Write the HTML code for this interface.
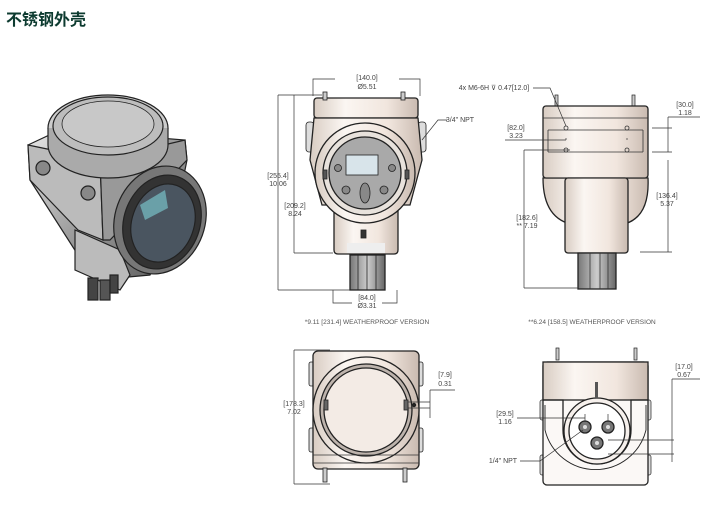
<!DOCTYPE html>
<html><head><meta charset="utf-8"><style>
html,body{margin:0;padding:0;background:#fff;}
svg{display:block}
.t{font-family:"Liberation Sans",sans-serif;font-size:7px;fill:#444;text-anchor:middle}
.s{font-family:"Liberation Sans",sans-serif;font-size:6.5px;fill:#555;text-anchor:middle}
.l{stroke:#333;stroke-width:0.7;fill:none}
.o{stroke:#222;stroke-width:1.3}
</style></head><body>
<svg width="712" height="507" viewBox="0 0 712 507" xmlns="http://www.w3.org/2000/svg">
<defs>
<linearGradient id="m" x1="0" x2="1"><stop offset="0" stop-color="#d8ccc2"/><stop offset=".3" stop-color="#fbf6f2"/><stop offset=".7" stop-color="#f1e6de"/><stop offset="1" stop-color="#c9bab0"/></linearGradient>
<linearGradient id="g" x1="0" x2="1" y1="0" y2="1"><stop offset="0" stop-color="#e8e8e8"/><stop offset=".5" stop-color="#9a9a9a"/><stop offset="1" stop-color="#555"/></linearGradient>
<linearGradient id="c" x1="0" x2="1"><stop offset="0" stop-color="#777"/><stop offset=".5" stop-color="#ccc"/><stop offset="1" stop-color="#666"/></linearGradient>
</defs>
<text x="6" y="25" style="font-family:'Liberation Sans','Noto Sans CJK SC',sans-serif;font-size:16px;font-weight:bold;fill:#0d3b30">不锈钢外壳</text>

<!-- 3D view -->
<g stroke="#222" stroke-width="1.2">
<path d="M28 145 L60 130 L185 140 L187 160 L175 220 L150 275 L95 280 L78 255 L30 180 Z" fill="url(#g)"/>
<path d="M28 145 L100 160 L103 240 L78 230 L30 180Z" fill="#bbb"/>
<path d="M100 160 L185 140 L187 160 L110 240 L103 240Z" fill="#999"/>
<ellipse cx="108" cy="128" rx="60" ry="33" fill="#ccc"/>
<path d="M48 128 L48 145 A60 33 0 0 0 168 145 L168 128" fill="#aaa"/>
<ellipse cx="108" cy="126" rx="55" ry="29" fill="#bdbdbd"/>
<ellipse cx="108" cy="124" rx="46" ry="23" fill="#c8c8c8" stroke-width="0.8"/>
<circle cx="43" cy="168" r="7" fill="#888"/><circle cx="88" cy="193" r="7" fill="#888"/>
<path d="M75 230 L75 270 L120 290 L130 275 L120 250Z" fill="#bbb"/>
<rect x="88" y="278" width="10" height="22" fill="#444"/><rect x="100" y="280" width="10" height="20" fill="#555"/><rect x="110" y="275" width="8" height="18" fill="#444"/>
<ellipse cx="160" cy="220" rx="45" ry="55" transform="rotate(20 160 220)" fill="#777"/>
<ellipse cx="162" cy="222" rx="38" ry="48" transform="rotate(20 162 222)" fill="#333"/>
<ellipse cx="163" cy="223" rx="31" ry="40" transform="rotate(20 163 223)" fill="#4a5560"/>
<path d="M140 205 L165 190 L168 208 L145 220Z" fill="#6aa0a8" stroke="none"/>
</g>

<!-- front view -->
<g class="o">
<rect x="306" y="122" width="8" height="30" rx="3" fill="#ddd" stroke-width="0.8"/>
<rect x="418" y="122" width="8" height="30" rx="3" fill="#ddd" stroke-width="0.8"/>
<rect x="314" y="98" width="104" height="20" rx="3" fill="url(#m)"/>
<rect x="323" y="92" width="4" height="8" fill="#ccc" stroke-width="0.8"/><rect x="401" y="92" width="4" height="8" fill="#ccc" stroke-width="0.8"/>
<path d="M314 118 L310 160 L322 205 L410 205 L422 160 L418 118Z" fill="url(#m)"/>
<path d="M334 205 L334 250 Q334 254 338 254 L394 254 Q398 254 398 250 L398 205Z" fill="url(#m)"/>
<circle cx="365" cy="173" r="50" fill="url(#m)"/>
<circle cx="365" cy="173" r="42" fill="#e8e2dc"/>
<circle cx="365" cy="173" r="36" fill="#a9a9a9"/>
<rect x="346" y="155" width="32" height="20" fill="#d8e4ea" stroke-width="0.8"/>
<rect x="347" y="243" width="38" height="10" fill="#eee" stroke="none"/>
<rect x="350" y="255" width="35" height="35" fill="url(#c)"/>
</g>
<g stroke="#222" stroke-width="0.8" fill="#888">
<circle cx="338" cy="168" r="3.5"/><circle cx="392" cy="168" r="3.5"/>
<circle cx="346" cy="190" r="4"/><circle cx="384" cy="190" r="4"/>
<ellipse cx="365" cy="193" rx="5" ry="10"/>
<rect x="323" y="170" width="4" height="9" fill="#555"/><rect x="405" y="170" width="4" height="9" fill="#555"/>
<rect x="361" y="230" width="5" height="8" fill="#333"/>
</g>
<g stroke="#222" stroke-width="0.8"><line x1="358" y1="255" x2="358" y2="290"/><line x1="367" y1="255" x2="367" y2="290"/><line x1="376" y1="255" x2="376" y2="290"/></g>
<g class="l">
<path d="M313 96 V79 H335 M399 79 H420 V96"/>
<path d="M278 95 H322 M278 290 H350 M278 95 V290"/>
<path d="M294 253 H333 M294 95 V253"/>
<path d="M333 290 V303 H352 M382 303 H397 V290"/>
<path d="M422 140 L438 120 H447"/>
</g>
<text class="t" x="367" y="80">[140.0]</text><text class="t" x="367" y="89">Ø5.51</text>
<text class="t" x="278" y="178">[255.4]</text><text class="t" x="278" y="186">10.06</text>
<text class="t" x="295" y="208">[209.2]</text><text class="t" x="295" y="216">8.24</text>
<text class="t" x="367" y="300">[84.0]</text><text class="t" x="367" y="308">Ø3.31</text>
<text class="t" x="460" y="122">3/4" NPT</text>
<text class="s" x="367" y="324">*9.11 [231.4] WEATHERPROOF VERSION</text>

<!-- side view -->
<g class="o">
<rect x="555" y="95" width="3" height="12" fill="#ccc" stroke-width="0.7"/><rect x="632" y="95" width="3" height="12" fill="#ccc" stroke-width="0.7"/>
<path d="M563 210 A40 40 0 0 0 630 210Z" fill="#eee"/>
<path d="M543 178 Q543 220 575 225 L620 225 Q650 220 648 178Z" fill="url(#m)"/>
<rect x="543" y="106" width="105" height="72" rx="3" fill="url(#m)"/>
<rect x="565" y="178" width="63" height="75" rx="3" fill="url(#m)"/>
<rect x="578" y="253" width="38" height="36" fill="url(#c)"/>
</g>
<g stroke="#333" stroke-width="0.8" fill="none">
<line x1="543" y1="118" x2="648" y2="118"/><line x1="548" y1="130" x2="643" y2="130"/><line x1="548" y1="152" x2="643" y2="152"/><line x1="543" y1="178" x2="648" y2="178"/>
<line x1="548" y1="130" x2="548" y2="152"/><line x1="643" y1="130" x2="643" y2="152"/>
<circle cx="566" cy="128" r="2"/><circle cx="627" cy="128" r="2"/><circle cx="566" cy="150" r="2"/><circle cx="627" cy="150" r="2"/>
<line x1="590" y1="253" x2="590" y2="289"/><line x1="600" y1="253" x2="600" y2="289"/><line x1="608" y1="253" x2="608" y2="289"/>
</g>
<g class="l">
<path d="M533 88 L550 88 L566 126"/>
<path d="M505 140 H566 M566 140 V138 M627 140 V138"/>
<path d="M524 150 H570 M524 288 H578 M524 150 V288"/>
<path d="M668 117 H700 M652 128 H672 M652 152 H672 M668 117 V152"/>
<path d="M640 252 H672 M668 160 V252"/>
</g>
<text class="t" x="494" y="90">4x M6-6H ⊽ 0.47[12.0]</text>
<text class="t" x="516" y="130">[82.0]</text><text class="t" x="516" y="138">3.23</text>
<text class="t" x="685" y="107">[30.0]</text><text class="t" x="685" y="115">1.18</text>
<text class="t" x="667" y="198">[136.4]</text><text class="t" x="667" y="206">5.37</text>
<text class="t" x="527" y="220">[182.6]</text><text class="t" x="527" y="228">** 7.19</text>
<text class="s" x="592" y="324">**6.24 [158.5] WEATHERPROOF VERSION</text>

<!-- bottom-left view -->
<g class="o">
<rect x="309" y="362" width="6" height="24" rx="2" fill="#ddd" stroke-width="0.8"/>
<rect x="309" y="428" width="6" height="24" rx="2" fill="#ddd" stroke-width="0.8"/>
<rect x="417" y="362" width="6" height="24" rx="2" fill="#ddd" stroke-width="0.8"/>
<rect x="417" y="428" width="6" height="24" rx="2" fill="#ddd" stroke-width="0.8"/>
<rect x="313" y="351" width="106" height="118" rx="5" fill="url(#m)"/>
<rect x="323" y="468" width="4" height="14" fill="#ccc" stroke-width="0.8"/><rect x="403" y="468" width="4" height="14" fill="#ccc" stroke-width="0.8"/>
<circle cx="366" cy="410" r="53" fill="url(#m)"/>
<circle cx="366" cy="410" r="46" fill="#bdb3ac"/>
<circle cx="366" cy="410" r="42" fill="#f3ebe5"/>
</g>
<g stroke="#222" stroke-width="0.8" fill="#666"><rect x="324" y="400" width="4" height="10"/><rect x="404" y="400" width="4" height="10"/><circle cx="414" cy="405" r="1.8" fill="#222"/></g>
<g stroke="#333" stroke-width="0.8" fill="none"><line x1="313" y1="455" x2="419" y2="455"/><line x1="313" y1="463" x2="419" y2="463"/></g>
<g class="l">
<path d="M294 350 H330 M294 484 H330 M294 350 V484"/>
<path d="M408 402 H430 M408 408 H430 M430 390 H455 M430 390 V418"/>
</g>
<text class="t" x="294" y="406">[178.3]</text><text class="t" x="294" y="414">7.02</text>
<text class="t" x="445" y="377">[7.9]</text><text class="t" x="445" y="386">0.31</text>

<!-- bottom-right view -->
<g class="o">
<rect x="556" y="348" width="3" height="12" fill="#ccc" stroke-width="0.7"/><rect x="634" y="348" width="3" height="12" fill="#ccc" stroke-width="0.7"/>
<rect x="540" y="400" width="5" height="20" rx="2" fill="#ddd" stroke-width="0.7"/>
<rect x="646" y="400" width="5" height="20" rx="2" fill="#ddd" stroke-width="0.7"/>
<rect x="540" y="455" width="5" height="20" rx="2" fill="#ddd" stroke-width="0.7"/>
<rect x="646" y="455" width="5" height="20" rx="2" fill="#ddd" stroke-width="0.7"/>
<rect x="543" y="362" width="105" height="123" rx="4" fill="#fbf8f6"/>
<rect x="543" y="362" width="105" height="38" fill="url(#m)"/>
<path d="M543 400 L563 400 L563 430 A34 34 0 0 0 631 430 L631 400 L648 400" fill="none"/>
<path d="M545 405 L545 430 A52 52 0 0 0 646 430 L646 405" fill="none" stroke-width="0.9"/>
<circle cx="597" cy="431" r="33" fill="#f6f0ec"/>
<circle cx="597" cy="431" r="28" fill="#fff"/>
<circle cx="585" cy="427" r="6" fill="#777"/><circle cx="608" cy="427" r="6" fill="#777"/><circle cx="597" cy="443" r="6" fill="#777"/>
<rect x="595" y="382" width="3" height="16" fill="#555" stroke="none"/>
</g>
<g fill="#ddd"><circle cx="585" cy="427" r="2"/><circle cx="608" cy="427" r="2"/><circle cx="597" cy="443" r="2"/></g>
<g class="l">
<path d="M517 418 H585 M585 414 V422 M608 414 V422"/>
<path d="M520 461 L540 461 L583 430"/>
<path d="M608 440 H674 M608 454 H674 M672 379 V462 M672 379 H700"/>
</g>
<text class="t" x="505" y="416">[29.5]</text><text class="t" x="505" y="424">1.16</text>
<text class="t" x="503" y="463">1/4" NPT</text>
<text class="t" x="684" y="369">[17.0]</text><text class="t" x="684" y="377">0.67</text>
</svg>
</body></html>
